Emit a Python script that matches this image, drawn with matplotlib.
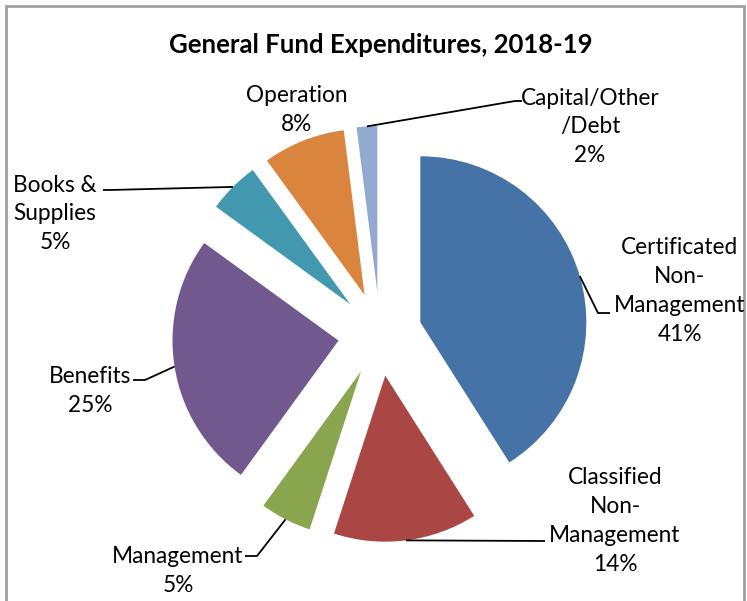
import numpy as np
import matplotlib
matplotlib.use("Agg")
import matplotlib.pyplot as plt
from matplotlib.patches import Rectangle

# data
categories = ["Certificated\nNon-\nManagement", "Classified\nNon-\nManagement",
              "Management", "Benefits", "Books &\nSupplies", "Operation",
              "Capital/Other\n/Debt"]
shares = [41, 14, 5, 25, 5, 8, 2]
colors = ["#4572A7", "#AA4643", "#89A54E", "#71588F", "#4198AF", "#DB843D", "#93A9CF"]

W, H = 747, 601
plt.rcParams['font.family'] = ['Lato', 'DejaVu Sans']

fig = plt.figure(figsize=(W / 100, H / 100), dpi=100)
ax = fig.add_axes([0, 0, 1, 1])

def px(x, y):
    # pixel coords (y down) -> data coords
    return x, H - y

R = 166
wedges, _ = ax.pie(shares, colors=colors, startangle=90, counterclock=False,
                   radius=R, center=px(380, 334), explode=[42] * len(shares),
                   wedgeprops=dict(linewidth=0), frame=True)
ax.set_xlim(0, W)
ax.set_ylim(0, H)
ax.axis("off")

# label text position (pixels) and leader elbow points (pixels) or None
label_pos = [(680, 291), (615, 521), (178, 571), (90, 391), (55, 214), (297, 110), (590, 127)]
elbows = [
    [(610, 313), (598, 313)],
    [(545, 541), (545, 541)],
    [(245, 556), (257, 556)],
    [(133, 380), (145, 380)],
    [(103, 190), (110, 190)],
    None,
    [(522, 101), (515, 101)],
]

for w, cat, s, pos, el in zip(wedges, categories, shares, label_pos, elbows):
    ax.text(*px(*pos), f"{cat}\n{s}%", ha="center", va="center", fontsize=16.3,
            linespacing=1.47, color="black")
    if el is None:
        continue
    mid = np.deg2rad((w.theta1 + w.theta2) / 2)
    cx, cy = w.center
    ax_pt = (cx + w.r * np.cos(mid), cy + w.r * np.sin(mid))
    pts = [px(*p) for p in el] + [ax_pt]
    xs, ys = zip(*pts)
    ax.plot(xs, ys, color="black", lw=1.3, solid_capstyle="butt")

ax.text(*px(381, 45), "General Fund Expenditures, 2018-19", ha="center", va="center",
        fontsize=18.5, fontweight="bold")

ax.add_patch(Rectangle(px(6, 640), 738, 634, fill=False, edgecolor="#A0A0A0", lw=2,
                       clip_on=False))

fig.savefig("out.png", dpi=100)
